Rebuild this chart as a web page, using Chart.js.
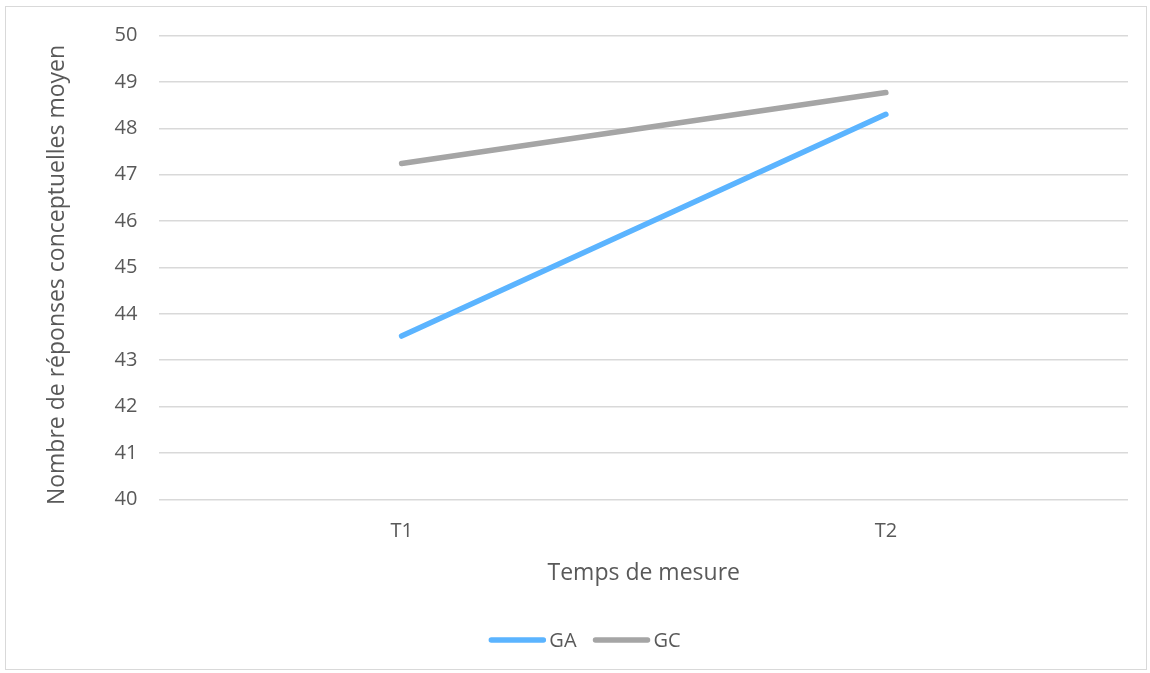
<!DOCTYPE html>
<html>
<head>
<meta charset="utf-8">
<script src="https://cdn.jsdelivr.net/npm/chart.js@4"></script>
<style>
html,body{margin:0;padding:0;background:#fff;}
#frame{position:absolute;left:5px;top:6px;width:1142px;height:664px;border:1px solid #d9d9d9;box-sizing:border-box;}
#wrap{position:absolute;left:0;top:0;width:1150px;height:673px;}
</style>
</head>
<body>
<div id="frame"></div>
<div id="wrap"><canvas id="c" width="1150" height="673"></canvas></div>
<script>
const categories = ['T1', 'T2'];
const seriesGA = [43.52, 48.30];
const seriesGC = [47.24, 48.77];
const yTicks = [40, 41, 42, 43, 44, 45, 46, 47, 48, 49, 50];
const xTitle = 'Temps de mesure';
const yTitle = 'Nombre de réponses conceptuelles moyen';

const FONT = '"Open Sans", sans-serif';
const TXT = '#595959';

// Excel-style legend and vertical axis title
const excelExtras = {
  id: 'excelExtras',
  afterDraw(chart) {
    const ctx = chart.ctx;
    ctx.save();
    // y axis title (Excel places it slightly below the plot centre)
    ctx.font = '23px ' + FONT;
    ctx.fillStyle = TXT;
    ctx.translate(57, 275);
    ctx.rotate(-Math.PI / 2);
    ctx.textAlign = 'center';
    ctx.textBaseline = 'middle';
    ctx.fillText(yTitle, 0, 0);
    ctx.restore();

    ctx.save();
    const y = 640, lineLen = 56, gapText = 4, gapItem = 17, centerX = 585;
    ctx.font = '20px ' + FONT;
    const items = chart.data.datasets.map(ds => ({ds, w: ctx.measureText(ds.label).width}));
    const total = items.reduce((s, it) => s + lineLen + gapText + it.w, 0) + gapItem * (items.length - 1);
    let x = centerX - total / 2;
    items.forEach(it => {
      ctx.strokeStyle = it.ds.borderColor;
      ctx.lineWidth = it.ds.borderWidth;
      ctx.lineCap = 'round';
      ctx.beginPath();
      ctx.moveTo(x + 2, y);
      ctx.lineTo(x + lineLen - 2, y);
      ctx.stroke();
      ctx.fillStyle = TXT;
      ctx.textBaseline = 'middle';
      ctx.textAlign = 'left';
      ctx.fillText(it.ds.label, x + lineLen + gapText, y + 1);
      x += lineLen + gapText + it.w + gapItem;
    });
    ctx.restore();
  }
};

new Chart(document.getElementById('c'), {
  type: 'line',
  data: {
    labels: categories,
    datasets: [
      {label: 'GA', data: seriesGA, borderColor: '#5BB4FF', backgroundColor: '#5BB4FF', borderWidth: 5.5, pointRadius: 0, borderCapStyle: 'round', tension: 0},
      {label: 'GC', data: seriesGC, borderColor: '#A5A5A5', backgroundColor: '#A5A5A5', borderWidth: 5.5, pointRadius: 0, borderCapStyle: 'round', tension: 0}
    ]
  },
  plugins: [excelExtras],
  options: {
    responsive: false,
    animation: false,
    devicePixelRatio: 1,
    layout: {padding: {left: 92.6, right: 22, top: 35.5, bottom: 86}},
    plugins: {
      tooltip: {enabled: false},
      legend: {display: false}
    },
    scales: {
      x: {
        offset: true,
        grid: {display: false, drawTicks: false},
        border: {display: false},
        ticks: {color: TXT, font: {family: FONT, size: 20}, padding: 20},
        title: {display: true, text: xTitle, color: TXT, font: {family: FONT, size: 23}, padding: {top: -4, bottom: 0}}
      },
      y: {
        min: 40, max: 50,
        afterBuildTicks: (axis) => { axis.ticks = yTicks.map(v => ({value: v})); },
        grid: {color: '#d9d9d9', lineWidth: 1.5, drawTicks: false},
        border: {display: false},
        ticks: {color: TXT, font: {family: FONT, size: 20}, padding: 22},
        title: {display: false}
      }
    }
  }
});
</script>
</body>
</html>
